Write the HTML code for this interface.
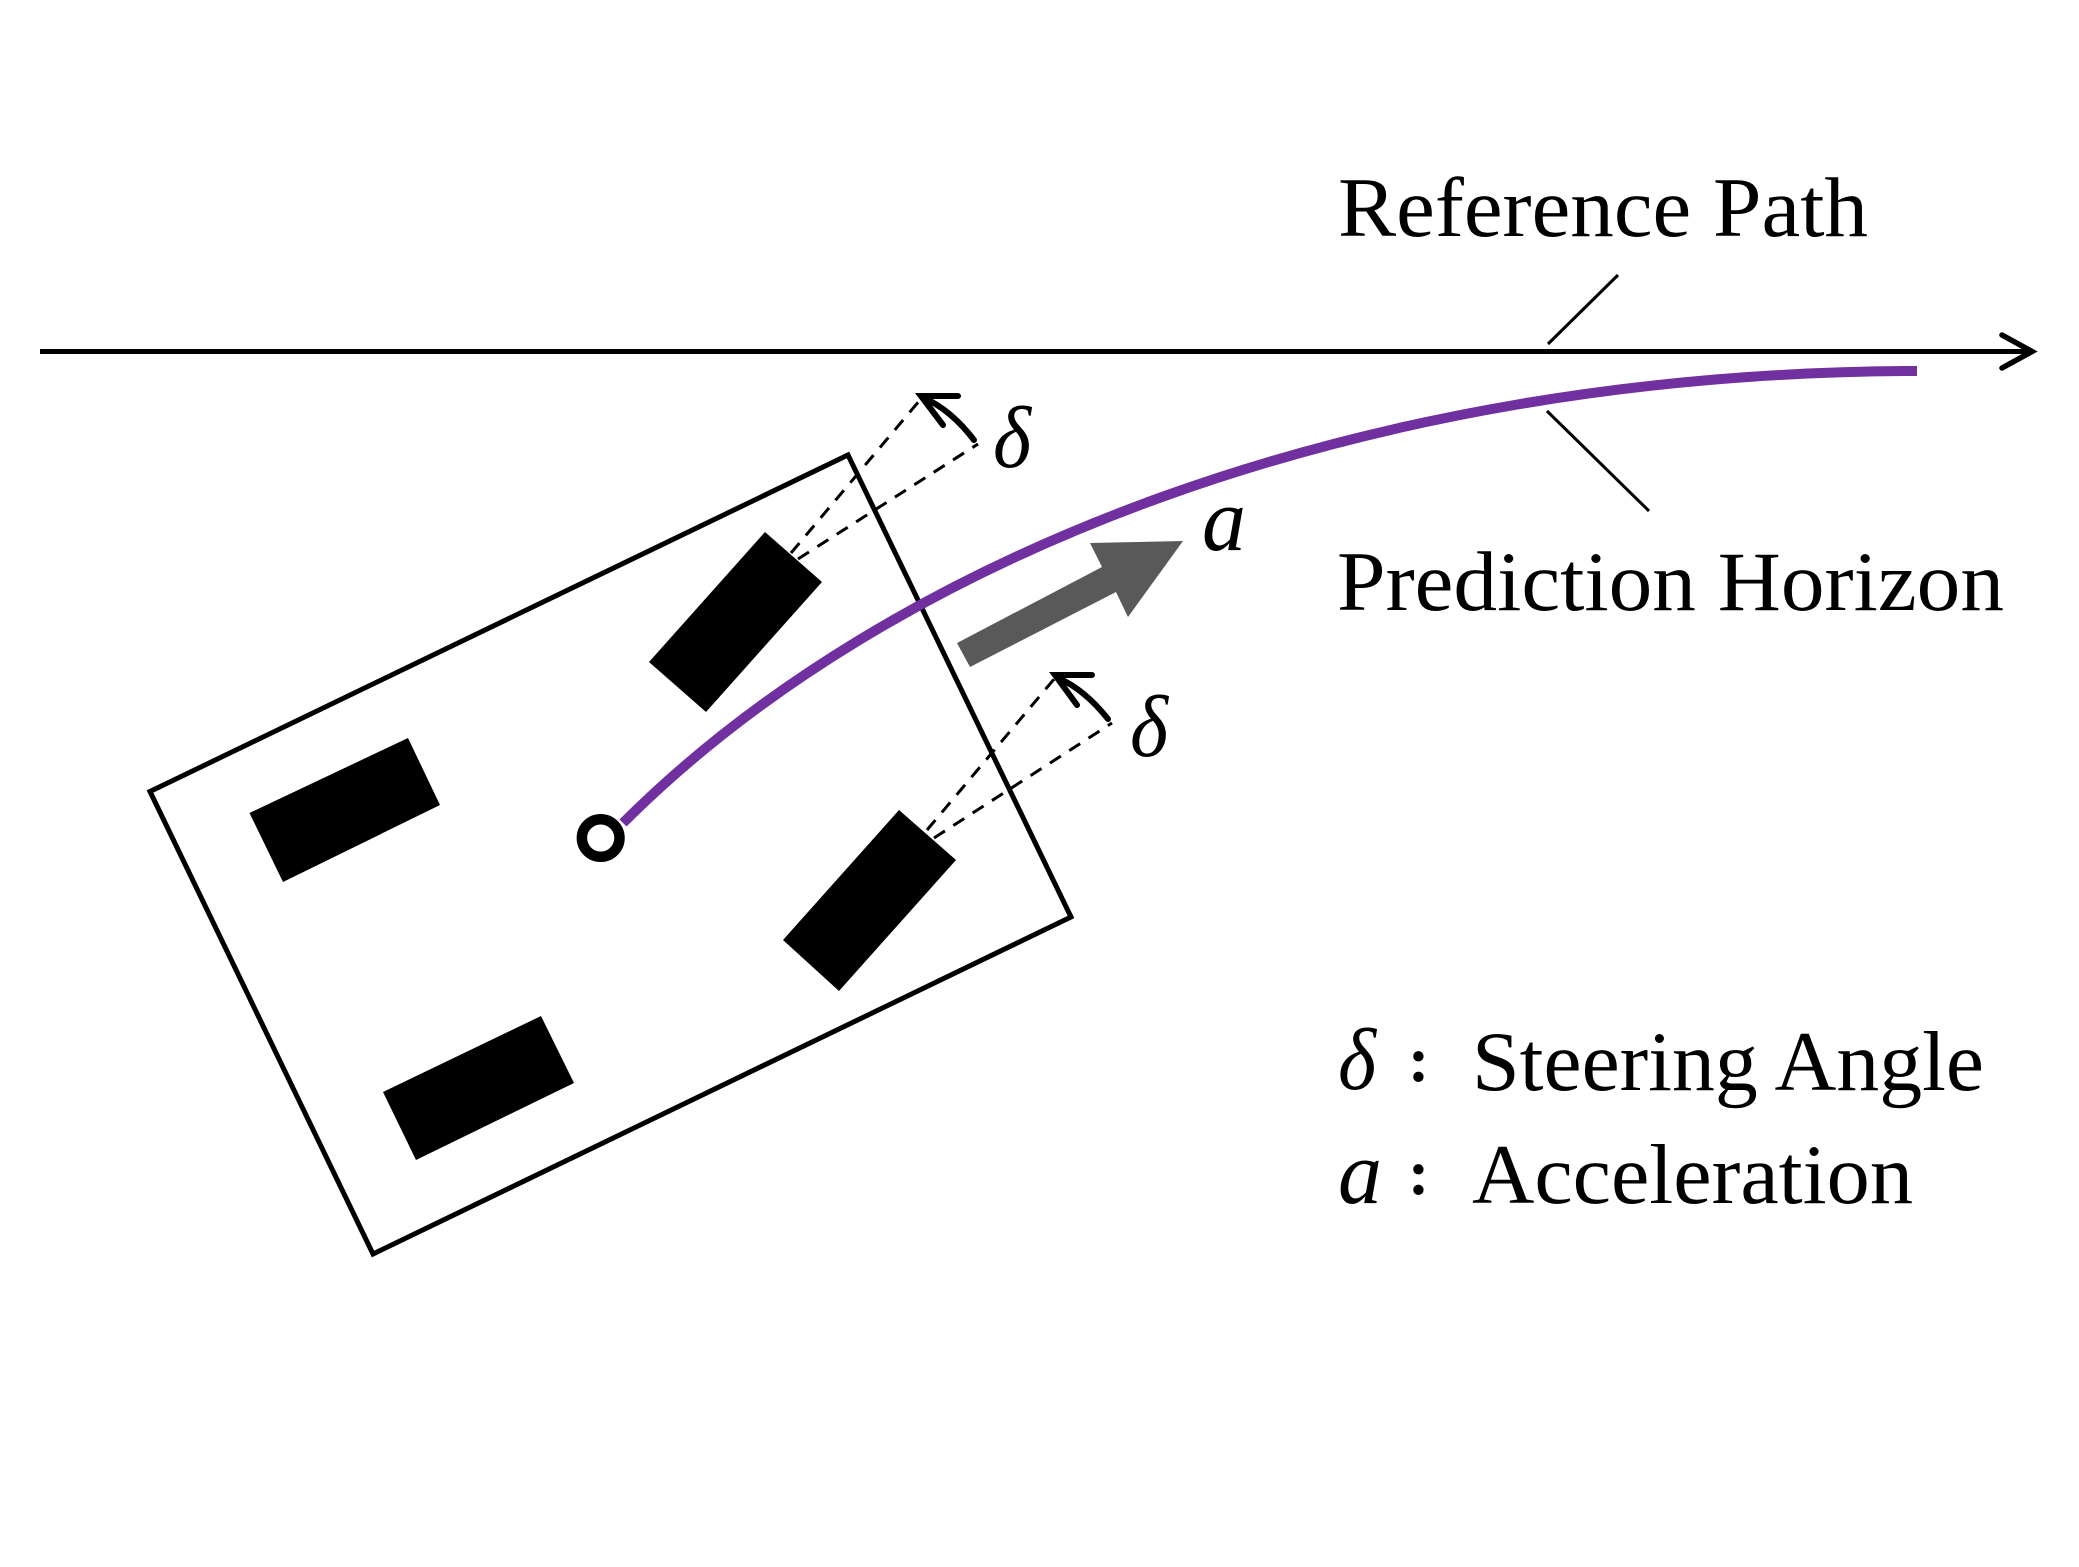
<!DOCTYPE html>
<html><head><meta charset="utf-8"><style>
html,body{margin:0;padding:0;background:#fff;width:2079px;height:1567px;overflow:hidden}
svg{display:block}
text{font-family:"Liberation Serif",serif;fill:#000}
.i{font-style:italic}
</style></head><body>
<svg width="2079" height="1567" viewBox="0 0 2079 1567" xmlns="http://www.w3.org/2000/svg">
<rect width="2079" height="1567" fill="#fff"/>
<!-- chassis -->
<polygon points="150,791.5 848,455 1071,917 373,1254" fill="none" stroke="#000" stroke-width="5" stroke-linejoin="miter"/>
<!-- wheels -->
<polygon points="765,532 822,582 706,712 649,662" fill="#000"/>
<polygon points="899,810 956,860 839,991 783,940" fill="#000"/>
<polygon points="408,738 440,805 283,882 249.5,813" fill="#000"/>
<polygon points="541,1016 574,1083 416,1160 383,1092" fill="#000"/>
<!-- dashed -->
<g fill="none" stroke="#000" stroke-width="3" stroke-dasharray="13 10">
<path d="M791,553L920,400"/><path d="M798,559L978,444"/>
<path d="M927,830L1055,678"/><path d="M934,838L1112,723"/>
</g>
<!-- steering arrows -->
<g fill="none" stroke="#000" stroke-linecap="round" stroke-linejoin="miter">
<path d="M974,440Q951,410 924,398" stroke-width="6"/><path d="M958,396L921,396L943,425" stroke-width="6"/>
<path d="M1108,719Q1084,689 1058,678" stroke-width="6"/><path d="M1092,675L1055,675L1077,705" stroke-width="6"/>
</g>
<!-- main axis -->
<path d="M40,351.5H2031" stroke="#000" stroke-width="5" fill="none"/>
<path d="M2002,335L2032,351.5L2002,368" stroke="#000" stroke-width="5.5" fill="none" stroke-linecap="round"/>
<!-- leaders -->
<path d="M1618,275L1548,344M1547,411L1649,511" stroke="#000" stroke-width="3" fill="none"/>
<!-- gray accel arrow -->
<polygon points="957,643 1102,567 1090,543 1183,541 1128,617 1116,592 970,667" fill="#595959"/>
<!-- path -->
<path d="M623,823C890,556 1360,372 1917,371" fill="none" stroke="#7030a0" stroke-width="10"/>
<!-- CG -->
<circle cx="600.7" cy="838" r="18.8" fill="#fff" stroke="#000" stroke-width="10.5"/>
<!-- labels -->
<text x="1338" y="236" font-size="85" textLength="530" lengthAdjust="spacingAndGlyphs">Reference Path</text>
<text x="1337" y="610" font-size="85" textLength="667" lengthAdjust="spacingAndGlyphs">Prediction Horizon</text>
<text x="1472" y="1090" font-size="85" textLength="512" lengthAdjust="spacingAndGlyphs">Steering Angle</text>
<text x="1472" y="1203" font-size="85" textLength="441" lengthAdjust="spacingAndGlyphs">Acceleration</text>
<text class="i" x="993" y="467" font-size="88" textLength="38" lengthAdjust="spacingAndGlyphs">δ</text>
<text class="i" x="1130" y="756" font-size="88" textLength="38" lengthAdjust="spacingAndGlyphs">δ</text>
<text class="i" x="1202" y="550" font-size="90" textLength="44" lengthAdjust="spacingAndGlyphs">a</text>
<text class="i" x="1338" y="1089" font-size="88" textLength="38" lengthAdjust="spacingAndGlyphs">δ</text>
<text class="i" x="1338" y="1203" font-size="90" textLength="44" lengthAdjust="spacingAndGlyphs">a</text>
<text x="1408" y="1081" font-size="64" font-weight="700">:</text>
<text x="1408" y="1194" font-size="64" font-weight="700">:</text>
</svg>
</body></html>
